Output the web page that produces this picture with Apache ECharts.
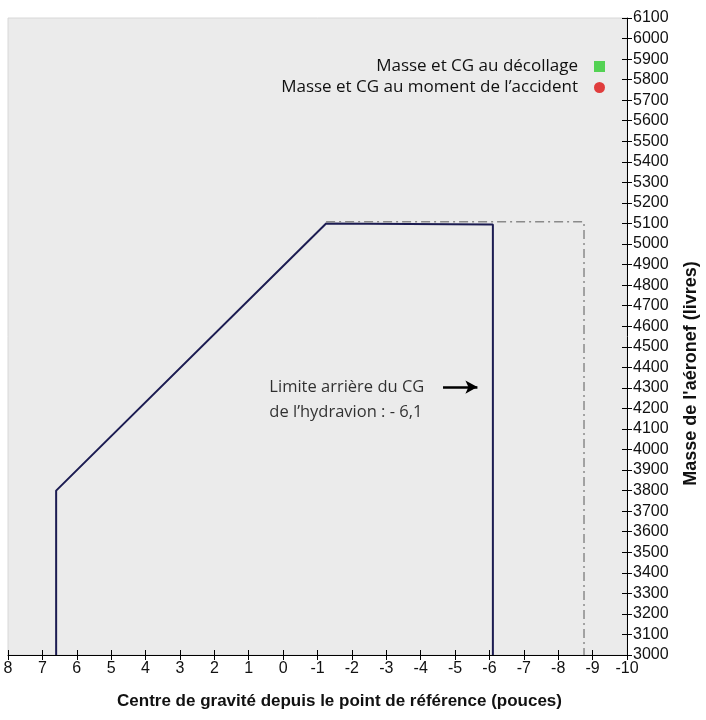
<!DOCTYPE html>
<html><head><meta charset="utf-8">
<script src="https://cdn.jsdelivr.net/npm/echarts@6/dist/echarts.min.js"></script>
<style>html,body{margin:0;padding:0;background:#fff}#c{width:706px;height:720px}</style>
</head><body><div id="c"></div>
<script>
// Data
const xRange = [-10, 8];
const yRange = [3000, 6100];
const envelopeX = [6.6, 6.6, -1.25, -6.1, -6.1];
const envelopeY = [3000, 3800, 5100, 5095, 3000];
const extendedX = [-1.25, -8.75, -8.75];
const extendedY = [5108, 5108, 3000];
const arrowX = [-4.65, -5.65];
const arrowY = [4304, 4304];
const noteX = [0.4];
const noteY = [4243];
const noteText = "Limite arrière du CG\nde l’hydravion : - 6,1";
const legendNames = ["Masse et CG au décollage", "Masse et CG au moment de l’accident"];
const xTitle = "Centre de gravité depuis le point de référence (pouces)";
const yTitle = "Masse de l'aéronef (livres)";

const zip = (a, b) => a.map((v, i) => [v, b[i]]);
const chart = echarts.init(document.getElementById('c'));
const tickFont = {fontFamily: 'Liberation Sans', fontSize: 16, color: '#111', formatter: v => String(v)};
chart.setOption({
  animation: false,
  backgroundColor: '#fff',
  grid: {left: 8, right: 79, top: 18, bottom: 65, outerBoundsMode: 'none', containLabel: false,
         show: true, backgroundColor: '#ebebeb', borderColor: '#d8d8d8', borderWidth: 1},
  legend: {
    orient: 'vertical', right: 96, top: 53, align: 'right', itemGap: 4,
    itemWidth: 11, itemHeight: 11,
    textStyle: {fontFamily: 'Open Sans', fontSize: 17, color: '#111', padding: [0, 11, 0, 0]},
    data: [{name: legendNames[0], icon: 'rect'}, {name: legendNames[1], icon: 'circle'}]
  },
  xAxis: [{
    type: 'value', min: xRange[0], max: xRange[1], interval: 1, inverse: true,
    axisLine: {show: true, onZero: false, lineStyle: {color: '#000', width: 1}},
    axisTick: {show: true, length: 5, lineStyle: {color: '#000'}},
    axisLabel: Object.assign({margin: 6}, tickFont),
    splitLine: {show: false},
    name: xTitle, nameLocation: 'middle', nameGap: 38,
    nameTextStyle: {fontFamily: 'Liberation Sans', fontSize: 17, fontWeight: 'bold', color: '#111', padding: [0, 0, 0, 44]}
  }, {
    type: 'value', min: xRange[0], max: xRange[1], interval: 1, inverse: true, position: 'bottom',
    axisLine: {show: false, onZero: false}, axisTick: {show: true, inside: true, length: 5, lineStyle: {color: '#000'}},
    axisLabel: {show: false}, splitLine: {show: false}
  }],
  yAxis: [{
    type: 'value', min: yRange[0], max: yRange[1], interval: 100, position: 'right',
    axisLine: {show: true, onZero: false, lineStyle: {color: '#000', width: 1}},
    axisTick: {show: true, length: 5, lineStyle: {color: '#000'}},
    axisLabel: Object.assign({margin: 6}, tickFont),
    splitLine: {show: false},
    name: yTitle, nameLocation: 'middle', nameGap: 55, nameRotate: 90,
    nameTextStyle: {fontFamily: 'Liberation Sans', fontSize: 18, fontWeight: 'bold', color: '#111', padding: [0, 74, 0, 0]}
  }, {
    type: 'value', min: yRange[0], max: yRange[1], interval: 100, position: 'right',
    axisLine: {show: false, onZero: false}, axisTick: {show: true, inside: true, length: 5, lineStyle: {color: '#000'}},
    axisLabel: {show: false}, splitLine: {show: false}
  }],
  series: [
    {type: 'line', name: 'envelope', data: zip(envelopeX, envelopeY), symbol: 'none',
     lineStyle: {color: '#1c1c52', width: 2}, silent: true},
    {type: 'line', name: 'extended', data: zip(extendedX, extendedY), symbol: 'none',
     lineStyle: {color: '#8a8a8a', width: 1.5, type: [9, 4, 2, 4]}, silent: true},
    {type: 'line', name: 'arrow', data: [], silent: true,
     markLine: {silent: true, symbol: ['none', 'arrow'], symbolSize: [10, 12], label: {show: false},
       lineStyle: {color: '#000', width: 2.5, type: 'solid'},
       data: [[{coord: [arrowX[0], arrowY[0]]}, {coord: [arrowX[1], arrowY[1]]}]]}},
    {type: 'scatter', name: 'note', data: zip(noteX, noteY), symbolSize: 0,
     label: {show: true, position: 'right', distance: 0, formatter: () => noteText, align: 'left',
       fontFamily: 'Open Sans', fontSize: 16.5, lineHeight: 25, color: '#000'}, silent: true},
    {type: 'scatter', name: legendNames[0], data: [], symbol: 'rect', itemStyle: {color: '#2ecc2e'}},
    {type: 'scatter', name: legendNames[1], data: [], symbol: 'circle', itemStyle: {color: '#dd1111'}}
  ]
});
</script></body></html>
